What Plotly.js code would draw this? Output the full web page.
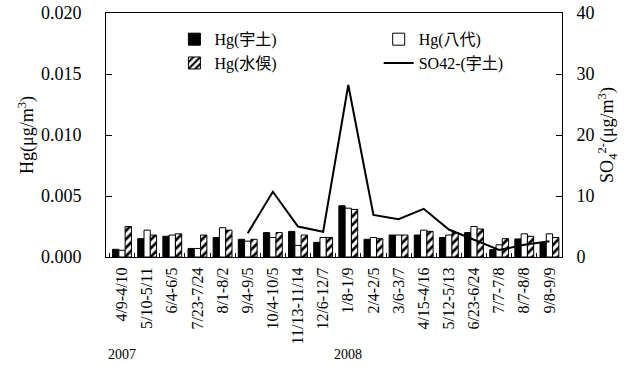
<!DOCTYPE html>
<html>
<head>
<meta charset="utf-8">
<script src="https://cdn.plot.ly/plotly-3.0.1.min.js"></script>
<style>html,body{margin:0;padding:0;background:#fff;}#chart{width:627px;height:371px;}</style>
</head>
<body>
<div id="chart"></div>
<script>
const categories = ["4/9-4/10","5/10-5/11","6/4-6/5","7/23-7/24","8/1-8/2","9/4-9/5","10/4-10/5","11/13-11/14","12/6-12/7","1/8-1/9","2/4-2/5","3/6-3/7","4/15-4/16","5/12-5/13","6/23-6/24","7/7-7/8","8/7-8/8","9/8-9/9"];
const hgUto       = [0.00063,0.0015,0.0017,0.0007,0.0016,0.00145,0.0020,0.0021,0.0012,0.0042,0.00145,0.0018,0.0018,0.0016,0.0020,0.0006,0.00148,0.0011];
const hgYatsushiro= [0.00055,0.0022,0.0018,0.0007,0.0024,0.0013,0.0016,0.00095,0.0016,0.0040,0.0016,0.0018,0.0022,0.0018,0.0025,0.0010,0.0019,0.0019];
const hgMinamata  = [0.0025,0.0018,0.0019,0.0018,0.0022,0.00145,0.0020,0.0018,0.0016,0.0039,0.0015,0.0018,0.0021,0.0020,0.0023,0.0015,0.0017,0.0016];
const so4Uto      = [null,null,null,null,null,3.9,10.7,5.0,4.15,28.2,6.9,6.2,7.9,4.5,2.8,1.15,2.0,2.6];
const yearLabels  = [["4/9-4/10","2007"],["1/8-1/9","2008"]];

const FONT = "Liberation Serif, Times New Roman, Noto Sans CJK JP, serif";

const traces = [
  {type:'bar', name:'Hg(宇土)', x:categories, y:hgUto, legend:'legend',
   marker:{color:'#000', line:{color:'#000', width:1}}},
  {type:'bar', name:'Hg(八代)', x:categories, y:hgYatsushiro, legend:'legend2',
   marker:{color:'#fff', line:{color:'#000', width:1}}},
  {type:'bar', name:'Hg(水俁)', x:categories, y:hgMinamata, legend:'legend',
   marker:{color:'#fff', line:{color:'#000', width:1},
     pattern:{shape:'/', fgcolor:'#000', bgcolor:'#fff', size:6, solidity:0.45}}},
  {type:'scatter', mode:'lines', name:'SO42-(宇土)', x:categories, y:so4Uto, yaxis:'y2', legend:'legend2',
   line:{color:'#000', width:2}, connectgaps:false}
];

const layout = {
  width:627, height:371,
  margin:{l:106, r:65, t:13, b:114},
  paper_bgcolor:'#fff', plot_bgcolor:'#fff',
  font:{family:FONT, color:'#000', size:18},
  barmode:'group', bargap:0.25, bargroupgap:0,
  showlegend:true,
  legend:{x:0.15, y:0.962, xanchor:'left', yanchor:'top', bgcolor:'rgba(0,0,0,0)',
    font:{family:FONT, size:16}, tracegroupgap:0},
  legend2:{x:0.598, y:0.962, xanchor:'left', yanchor:'top', bgcolor:'rgba(0,0,0,0)',
    font:{family:FONT, size:16}, tracegroupgap:0},
  xaxis:{type:'category', showline:true, linecolor:'#000', linewidth:1, mirror:true,
    ticks:'inside', tickson:'boundaries', ticklen:4, tickcolor:'#000',
    tickangle:-90, tickfont:{family:FONT, size:16}, ticklabelstandoff:3,
    showgrid:false, zeroline:false},
  yaxis:{range:[0,0.020], dtick:0.005, tickformat:'.3f', showline:true, linecolor:'#000', linewidth:1,
    ticks:'inside', ticklen:6, tickcolor:'#000', showgrid:false, zeroline:false,
    tickfont:{family:FONT, size:18}, ticklabelstandoff:20,
    title:{text:'Hg(μg/m<sup>3</sup>)', font:{family:FONT, size:18}, standoff:2}},
  yaxis2:{range:[0,40], dtick:10, overlaying:'y', side:'right', showline:true, linecolor:'#000', linewidth:1,
    ticks:'inside', ticklen:6, tickcolor:'#000', showgrid:false, zeroline:false,
    tickfont:{family:FONT, size:18}, ticklabelstandoff:10,
    title:{text:'SO<sub>4</sub><sup>2-</sup>(μg/m<sup>3</sup>)', font:{family:FONT, size:18}, standoff:2}},
  annotations: yearLabels.map(([cat, txt]) => ({
    xref:'x', yref:'paper', x:cat, y:-0.40, text:txt, showarrow:false,
    font:{family:FONT, size:14}, xanchor:'center', yanchor:'middle'
  }))
};

Plotly.newPlot('chart', traces, layout, {displayModeBar:false, staticPlot:true});
</script>
</body>
</html>
